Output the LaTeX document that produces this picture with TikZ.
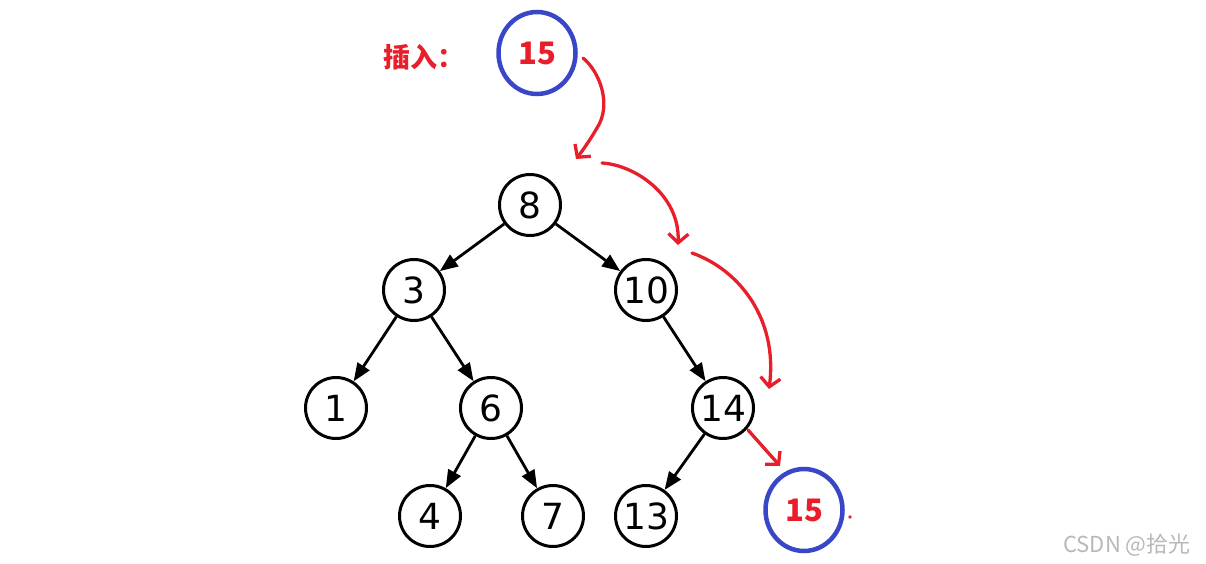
\documentclass[tikz,border=0pt]{standalone}
\usepackage{fontspec}
\setmainfont{DejaVu Sans}
\newfontfamily\cjkf{Noto Sans CJK SC}
\usetikzlibrary{arrows.meta,shapes.geometric}
\definecolor{redmark}{RGB}{232,30,42}
\definecolor{bluering}{RGB}{58,70,200}
\tikzset{
  tnode/.style={circle,draw=black,line width=3pt,minimum size=61pt,inner sep=0pt,font=\fontsize{36}{36}\selectfont},
  tedge/.style={line width=2.8pt,-{Triangle[length=18pt,width=14pt]}},
  ringnode/.style={ellipse,draw=bluering,line width=4.5pt,minimum width=77pt,minimum height=82pt,inner sep=0pt,text=redmark,font=\cjkf\bfseries\fontsize{31}{31}\selectfont},
  redarrow/.style={draw=redmark,line width=3.3pt,line cap=round,line join=round,-{Straight Barb[length=9pt,width=20pt,line width=3.3pt]}},
}
\begin{document}
\begin{tikzpicture}[x=1pt,y=-1pt]
\useasboundingbox (0,0) rectangle (1206,564);
% tree
\node[tnode] (n8) at (530,205) {8};
\node[tnode] (n3) at (414,290) {3};
\node[tnode] (n10) at (646,290) {10};
\node[tnode] (n1) at (336,408) {1};
\node[tnode] (n6) at (491,408) {6};
\node[tnode] (n14) at (723,408) {14};
\node[tnode] (n4) at (430,516) {4};
\node[tnode] (n7) at (553,516) {7};
\node[tnode] (n13) at (646,516) {13};
\draw[tedge] (n8) -- (n3);
\draw[tedge] (n8) -- (n10);
\draw[tedge] (n3) -- (n1);
\draw[tedge] (n3) -- (n6);
\draw[tedge] (n10) -- (n14);
\draw[tedge] (n6) -- (n4);
\draw[tedge] (n6) -- (n7);
\draw[tedge] (n14) -- (n13);
% inserted nodes
\node[ringnode] (top15) at (537,53) {15};
\node[ringnode] (new15) at (804,510) {15};
\node[text=redmark,font=\cjkf\bfseries\fontsize{27}{27}\selectfont,anchor=west] (ins) at (380,57) {插入：};
% red hand-drawn arrows
\coordinate (a1s) at (583,58);
\coordinate (a1e) at (576,159);
\draw[redarrow] (a1s) .. controls (600,72) and (612,105) .. (597,128) .. controls (590,140) and (583,150) .. (a1e);
\coordinate (a2s) at (602,163);
\coordinate (a2e) at (678,245);
\draw[redarrow] (a2s) .. controls (635,165) and (680,195) .. (a2e);
\coordinate (a3s) at (692,253);
\coordinate (a3e) at (769,389);
\draw[redarrow] (a3s) .. controls (740,270) and (778,320) .. (a3e);
\coordinate (a4s) at (748,430);
\coordinate (a4e) at (780,466);
\draw[redarrow] (a4s) -- (a4e);
\fill[redmark] (850,517) circle (1.8);
% watermark
\node[text=black!28,font=\cjkf\fontsize{22}{22}\selectfont] (wm) at (1127,545) {CSDN @拾光};
\end{tikzpicture}
\end{document}
